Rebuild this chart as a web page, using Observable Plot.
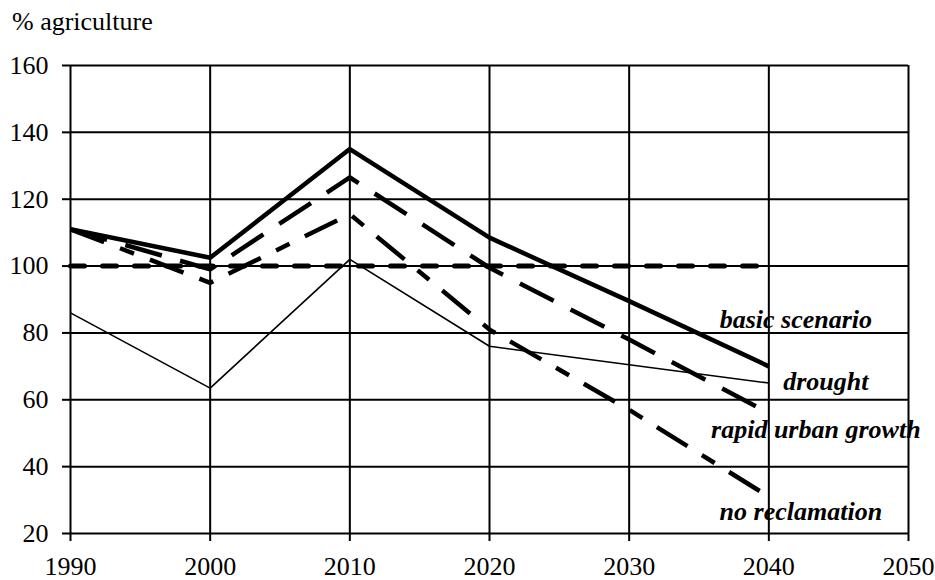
<!DOCTYPE html>
<html>
<head>
<meta charset="utf-8">
<script src="https://cdn.jsdelivr.net/npm/d3@7"></script>
<script src="https://cdn.jsdelivr.net/npm/@observablehq/plot@0.6"></script>
<style>
  html, body { margin: 0; padding: 0; background: #fff; }
  #title { height: 40px; box-sizing: border-box; padding: 12px 0 0 12px; font-family: "Liberation Serif", "DejaVu Serif", "Noto Serif", "Times New Roman", Times, serif; font-size: 26px; line-height: 20px; color: #000; }
  svg { display: block; }
</style>
</head>
<body>
<div id="title">% agriculture</div>
<div id="chart"></div>
<script>
const years = [1990, 2000, 2010, 2020, 2030, 2040];
const basicScenario = [111, 102.5, 135, 108.5, 89.5, 70];
const drought = [86, 63.5, 102, 76, 70.5, 65];
const rapidUrbanGrowth = [111, 99, 126.5, 99.5, 78, 56];
const noReclamation = [111, 95, 115.5, 81, 57, 31];
const reference = [100, 100, 100, 100, 100, 100];
const xTicks = [1990, 2000, 2010, 2020, 2030, 2040, 2050];
const yTicks = [20, 40, 60, 80, 100, 120, 140, 160];
const seriesNames = ["basic scenario", "drought", "rapid urban growth", "no reclamation"];

const toRows = (vals) => years.map((y, i) => ({year: y, value: vals[i]}));

const styles = [
  {vals: basicScenario, strokeWidth: 4.5, dash: null, dx: 27, dy: -47},
  {vals: drought, strokeWidth: 1.6, dash: null, dx: 57, dy: -1},
  {vals: rapidUrbanGrowth, strokeWidth: 4.5, dash: "38,19", dx: 47, dy: 17},
  {vals: noReclamation, strokeWidth: 4.5, dash: "36,17,15,17", dx: 32, dy: 15}
];

const font = '"Liberation Serif", "DejaVu Serif", "Noto Serif", "Times New Roman", Times, serif';

const marks = [
  Plot.gridX(xTicks, {stroke: "#000", strokeOpacity: 1, strokeWidth: 2}),
  Plot.gridY(yTicks, {stroke: "#000", strokeOpacity: 1, strokeWidth: 2}),
  Plot.axisX(xTicks, {tickSize: 8, tickPadding: 15, tickFormat: "d", fontSize: 26, stroke: "#000", strokeWidth: 2, label: null}),
  Plot.axisY(yTicks, {tickSize: 8, tickPadding: 14, fontSize: 26, stroke: "#000", strokeWidth: 2, label: null}),
  Plot.line(toRows(reference), {x: "year", y: "value", stroke: "#000", strokeWidth: 5, strokeDasharray: "14,18"})
];

styles.forEach((s, i) => {
  const rows = toRows(s.vals);
  marks.push(Plot.line(rows, {
    x: "year", y: "value", stroke: "#000", strokeWidth: s.strokeWidth,
    strokeDasharray: s.dash, strokeLinejoin: "round", strokeLinecap: "butt"
  }));
  marks.push(Plot.text([rows[rows.length - 1]], {
    x: "year", y: "value", text: () => seriesNames[i],
    dx: s.dx, dy: s.dy, fontSize: 26, fontWeight: "bold", fontStyle: "italic",
    fontFamily: font, fill: "#000", textAnchor: "middle"
  }));
});

const chart = Plot.plot({
  width: 935,
  height: 540,
  marginLeft: 70,
  marginRight: 27,
  marginTop: 25,
  marginBottom: 47,
  style: {fontFamily: font, color: "#000", background: "#fff", overflow: "visible"},
  x: {domain: [1990, 2050]},
  y: {domain: [20, 160]},
  marks
});
document.getElementById("chart").appendChild(chart);
</script>
</body>
</html>
